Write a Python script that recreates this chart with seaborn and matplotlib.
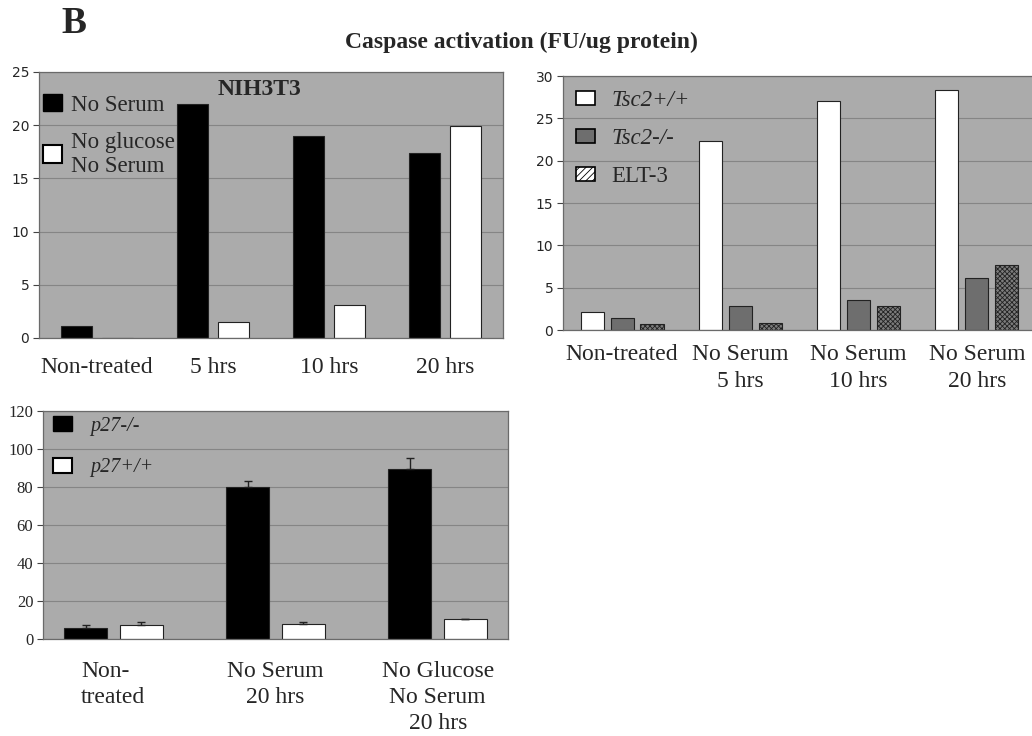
import pandas as pd
import matplotlib
matplotlib.use("Agg")
import matplotlib.pyplot as plt
from matplotlib.patches import Patch
import seaborn as sns

# panel A: NIH3T3
nih_groups = ["Non-treated", "5 hrs", "10 hrs", "20 hrs"]
nih_series = ["No Serum", "No glucose\nNo Serum"]
nih_no_serum = [1.1, 22.0, 19.0, 17.4]
nih_no_glucose = [0.0, 1.5, 3.1, 19.9]

# panel B: Tsc2
tsc_groups = ["Non-treated", "No Serum\n5 hrs", "No Serum\n10 hrs", "No Serum\n20 hrs"]
tsc_series = ["Tsc2+/+", "Tsc2-/-", "ELT-3"]
tsc_wt = [2.1, 22.3, 27.1, 28.3]
tsc_ko = [1.4, 2.8, 3.5, 6.1]
tsc_elt = [0.7, 0.8, 2.8, 7.7]

# panel C: p27
p27_groups = ["Non-\ntreated", "No Serum\n20 hrs", "No Glucose\nNo Serum\n20 hrs"]
p27_series = ["p27-/-", "p27+/+"]
p27_ko = [6.0, 80.0, 89.5]
p27_ko_err = [1.3, 3.0, 5.5]
p27_wt = [7.5, 8.0, 10.5]
p27_wt_err = [1.4, 1.2, 0.0]

SERIF = "Liberation Serif"
BG = "#ababab"
GRID = "#858585"

sns.set_style("white")
plt.rcParams["font.family"] = ["DejaVu Sans"]
plt.rcParams["hatch.linewidth"] = 0.6

fig = plt.figure(figsize=(10.32, 7.36), dpi=100)


def style_axes(ax, ymax, step):
    ax.set_facecolor(BG)
    ax.set_ylim(0, ymax)
    ax.set_yticks(range(0, ymax + 1, step))
    ax.yaxis.grid(True, color=GRID, lw=0.8)
    ax.set_axisbelow(True)
    for s in ax.spines.values():
        s.set_color("#6a6a6a")
        s.set_linewidth(0.9)
    ax.tick_params(axis="y", length=4, width=0.8, color="#444444", left=True, pad=3)
    ax.tick_params(axis="x", length=0)
    ax.set_xlabel("")
    ax.set_ylabel("")


# ---- panel 1
df1 = pd.DataFrame({
    "group": nih_groups * 2,
    "series": [nih_series[0]] * 4 + [nih_series[1]] * 4,
    "value": nih_no_serum + nih_no_glucose,
})
ax1 = fig.add_axes([0.0378, 0.5408, 0.4496, 0.3614])
sns.barplot(data=df1, x="group", y="value", hue="series", ax=ax1,
            palette=["black", "white"], width=0.7, gap=0.23,
            edgecolor="#222222", linewidth=0.8, legend=False)
style_axes(ax1, 25, 5)
ax1.tick_params(axis="y", labelsize=10)
ax1.set_xticks(range(4))
ax1.set_xticklabels(nih_groups, fontfamily=SERIF, fontsize=17)
ax1.tick_params(axis="x", pad=14)
ax1.text(0.475, 0.935, "NIH3T3", transform=ax1.transAxes, ha="center", va="center",
         fontfamily=SERIF, fontweight="bold", fontsize=17)
h1 = [Patch(facecolor="black", edgecolor="black"),
      Patch(facecolor="white", edgecolor="black", linewidth=1.5)]
ax1.legend(h1, nih_series, loc="upper left", frameon=False,
           prop={"family": SERIF, "size": 16.5}, handlelength=0.85, handleheight=0.8,
           handletextpad=0.4, borderaxespad=0.0, borderpad=0.2, labelspacing=0.7,
           bbox_to_anchor=(-0.002, 0.935))

# ---- panel 2
df2 = pd.DataFrame({
    "group": tsc_groups * 3,
    "series": [tsc_series[0]] * 4 + [tsc_series[1]] * 4 + [tsc_series[2]] * 4,
    "value": tsc_wt + tsc_ko + tsc_elt,
})
ax2 = fig.add_axes([0.5455, 0.5516, 0.4583, 0.3451])
sns.barplot(data=df2, x="group", y="value", hue="series", ax=ax2,
            palette=["white", "#6e6e6e", "#7c7c7c"], width=0.76, gap=0.23,
            edgecolor="#222222", linewidth=0.8, legend=False)
for bar in ax2.containers[2]:
    bar.set_hatch("xxxxxxx")
style_axes(ax2, 30, 5)
ax2.tick_params(axis="y", labelsize=10)
ax2.set_xticks(range(4))
ax2.set_xticklabels(tsc_groups, fontfamily=SERIF, fontsize=17, linespacing=1.4)
ax2.tick_params(axis="x", pad=10)
h2 = [Patch(facecolor="white", edgecolor="black", linewidth=1.2),
      Patch(facecolor="#6e6e6e", edgecolor="black", linewidth=1.2),
      Patch(facecolor="white", edgecolor="black", linewidth=1.2, hatch="/////")]
leg2 = ax2.legend(h2, tsc_series, loc="upper left", frameon=False,
                  prop={"family": SERIF, "size": 16.5}, handlelength=0.85, handleheight=0.6,
                  handletextpad=0.7, borderaxespad=0.3, borderpad=0.25, labelspacing=0.75,
                  bbox_to_anchor=(0.0, 0.995))
for t in leg2.get_texts()[:2]:
    t.set_fontstyle("italic")

# ---- panel 3
df3 = pd.DataFrame({
    "group": p27_groups * 2,
    "series": [p27_series[0]] * 3 + [p27_series[1]] * 3,
    "value": p27_ko + p27_wt,
})
ax3 = fig.add_axes([0.0417, 0.1318, 0.4506, 0.3098])
sns.barplot(data=df3, x="group", y="value", hue="series", ax=ax3,
            palette=["black", "white"], width=0.684, gap=0.225,
            edgecolor="#222222", linewidth=0.8, legend=False)
errs = [p27_ko_err, p27_wt_err]
for cont, err in zip(ax3.containers, errs):
    xs = [b.get_x() + b.get_width() / 2 for b in cont]
    ys = [b.get_height() for b in cont]
    ax3.errorbar(xs, ys, yerr=[[0] * len(err), err], fmt="none", ecolor="#222222",
                 elinewidth=1.0, capsize=3, capthick=1.0)
style_axes(ax3, 120, 20)
for lab in ax3.get_yticklabels():
    lab.set_fontfamily(SERIF)
    lab.set_fontsize(12)
ax3.set_xticks(range(3))
ax3.set_xticklabels(p27_groups, fontfamily=SERIF, fontsize=17, va="top", linespacing=1.3)
ax3.get_xticklabels()[0].set_multialignment("left")
ax3.tick_params(axis="x", pad=16)
h3 = [Patch(facecolor="black", edgecolor="black"),
      Patch(facecolor="white", edgecolor="black", linewidth=1.5)]
leg3 = ax3.legend(h3, p27_series, loc="upper left", frameon=False,
                  prop={"family": SERIF, "size": 14.5, "style": "italic"},
                  handlelength=0.95, handleheight=0.75, handletextpad=0.9,
                  borderaxespad=0.2, labelspacing=1.1, bbox_to_anchor=(-0.005, 1.03))

# ---- titles
fig.text(0.505, 0.942, "Caspase activation (FU/ug protein)", ha="center", va="center",
         fontfamily=SERIF, fontweight="bold", fontsize=17)
fig.text(0.072, 0.968, "B", ha="center", va="center",
         fontfamily=SERIF, fontweight="bold", fontsize=27)

fig.savefig("out.png", dpi=100, facecolor="white")
